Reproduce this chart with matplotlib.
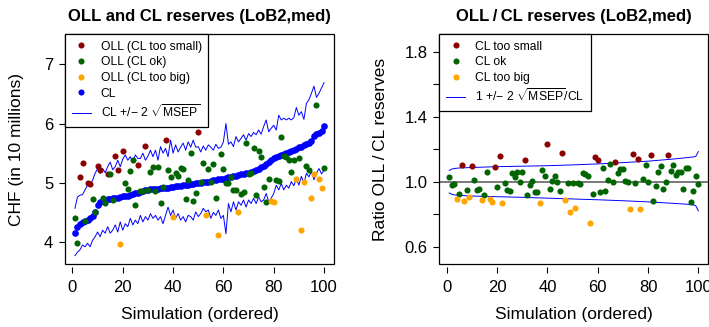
import matplotlib
matplotlib.use("Agg")
import matplotlib.pyplot as plt
from matplotlib.patches import Rectangle
from matplotlib.lines import Line2D
import numpy as np

plt.rcParams['font.family'] = ['Liberation Sans', 'DejaVu Sans']
plt.rcParams['mathtext.fontset'] = 'custom'
plt.rcParams['mathtext.rm'] = 'Liberation Sans'
plt.rcParams['mathtext.it'] = 'Liberation Sans:italic'
plt.rcParams['mathtext.bf'] = 'Liberation Sans:bold'

# ---- left panel: CL reserves (sorted), OLL reserves, CL +/- 2 sqrt(MSEP)
cl = [4.16, 4.26, 4.31, 4.34, 4.36, 4.38, 4.40, 4.44, 4.51, 4.62,
      4.67, 4.69, 4.71, 4.72, 4.73, 4.74, 4.75, 4.75, 4.76, 4.77,
      4.78, 4.78, 4.80, 4.81, 4.82, 4.83, 4.85, 4.86, 4.87, 4.88,
      4.89, 4.89, 4.90, 4.90, 4.91, 4.91, 4.92, 4.92, 4.93, 4.93,
      4.94, 4.95, 4.95, 4.96, 4.96, 4.97, 4.98, 4.98, 4.99, 5.00,
      5.00, 5.01, 5.02, 5.02, 5.03, 5.04, 5.05, 5.06, 5.06, 5.07,
      5.08, 5.09, 5.10, 5.11, 5.12, 5.13, 5.14, 5.15, 5.16, 5.17,
      5.18, 5.20, 5.22, 5.24, 5.26, 5.28, 5.31, 5.35, 5.38, 5.42,
      5.44, 5.45, 5.47, 5.49, 5.50, 5.52, 5.53, 5.55, 5.57, 5.60,
      5.61, 5.63, 5.65, 5.67, 5.70, 5.79, 5.82, 5.84, 5.87, 5.96]

cl_upper = [4.57, 4.76, 4.79, 4.80, 4.88, 4.96, 4.98, 5.04, 5.16, 5.24,
            5.16, 5.24, 5.17, 5.27, 5.35, 5.22, 5.27, 5.38, 5.27, 5.40,
            5.47, 5.38, 5.44, 5.35, 5.47, 5.41, 5.41, 5.50, 5.38, 5.45,
            5.55, 5.44, 5.55, 5.38, 5.61, 5.50, 5.58, 5.44, 5.72, 5.50,
            5.64, 5.52, 5.60, 5.67, 5.55, 5.69, 5.60, 5.72, 5.60, 5.61,
            5.52, 5.62, 5.55, 5.64, 5.60, 5.55, 5.65, 5.58, 5.60, 5.69,
            6.00, 5.65, 5.69, 5.61, 5.78, 5.69, 5.75, 5.81, 5.72, 5.83,
            5.78, 5.85, 5.81, 5.89, 5.82, 5.95, 6.06, 5.86, 5.92, 5.97,
            5.89, 6.14, 6.06, 6.09, 6.06, 6.09, 6.06, 6.10, 6.27, 6.14,
            6.20, 6.07, 6.34, 6.40, 6.51, 6.63, 6.44, 6.51, 6.60, 6.69]

cl_lower = [3.77, 3.83, 3.87, 3.95, 3.92, 3.98, 3.92, 4.03, 4.09, 4.17,
            4.09, 4.20, 4.15, 4.26, 4.15, 4.20, 4.29, 4.17, 4.34, 4.20,
            4.31, 4.26, 4.40, 4.29, 4.37, 4.31, 4.45, 4.34, 4.43, 4.37,
            4.48, 4.40, 4.45, 4.37, 4.43, 4.31, 4.45, 4.59, 4.45, 4.54,
            4.40, 4.48, 4.37, 4.43, 4.34, 4.45, 4.43, 4.37, 4.51, 4.43,
            4.48, 4.57, 4.51, 4.54, 4.40, 4.50, 4.45, 4.54, 4.40, 4.45,
            4.14, 4.65, 4.51, 4.68, 4.54, 4.68, 4.62, 4.71, 4.59, 4.71,
            4.65, 4.74, 4.65, 4.76, 4.68, 4.71, 4.82, 4.68, 4.74, 4.82,
            4.96, 4.88, 4.99, 4.88, 4.96, 4.91, 5.02, 4.95, 5.07, 4.96,
            5.11, 4.99, 5.16, 5.10, 5.19, 5.05, 5.16, 5.24, 5.15, 5.21]

oll = [4.40, 3.98, 5.09, 5.33, 4.36, 5.00, 4.98, 4.73, 4.51, 5.28,
       5.22, 4.74, 4.66, 5.15, 5.15, 4.71, 5.46, 5.22, 3.96, 5.54,
       4.99, 4.89, 5.20, 5.38, 4.63, 5.30, 4.86, 4.86, 5.62, 4.88,
       5.19, 5.26, 4.86, 5.27, 4.66, 4.93, 5.72, 5.21, 5.10, 4.43,
       5.16, 5.11, 5.25, 5.23, 4.72, 5.05, 5.50, 4.69, 4.82, 5.85,
       5.01, 5.33, 4.45, 5.23, 5.01, 5.32, 4.75, 4.12, 5.48, 5.24,
       4.99, 4.99, 5.10, 4.88, 4.88, 4.51, 4.81, 4.85, 5.67, 5.15,
       5.17, 5.59, 4.79, 5.54, 5.43, 4.93, 4.68, 5.07, 4.70, 4.68,
       5.04, 5.03, 5.77, 5.45, 5.43, 5.38, 5.18, 5.38, 5.06, 5.41,
       4.20, 5.01, 5.29, 5.22, 4.75, 5.15, 6.31, 5.06, 4.92, 5.25]

# s = CL too small, o = CL ok, b = CL too big
oll_cat = ['o', 'o', 's', 's', 'o', 's', 's', 'o', 'o', 's',
           's', 'o', 'o', 's', 'o', 'o', 's', 's', 'b', 's',
           'o', 'o', 'o', 'o', 'o', 's', 'o', 'o', 's', 'o',
           'o', 'o', 'o', 'o', 'o', 'o', 's', 'o', 'o', 'b',
           'o', 'o', 'o', 'o', 'o', 'o', 'o', 'o', 'o', 's',
           'o', 'o', 'b', 'o', 'o', 'o', 'o', 'b', 'o', 'o',
           'o', 'o', 'o', 'o', 'o', 'b', 'o', 'o', 'o', 'o',
           'o', 'o', 'o', 'o', 'o', 'o', 'o', 'o', 'b', 'b',
           'o', 'o', 'o', 'o', 'o', 'o', 'o', 'o', 'b', 'o',
           'b', 'b', 'o', 'o', 'b', 'b', 'o', 'b', 'b', 'o']

# ---- right panel: ratio OLL / CL, band 1 +/- 2 sqrt(MSEP)/CL
ratio = [1.032, 0.978, 0.988, 0.892, 0.925, 1.103, 0.880, 0.951, 0.908, 1.097,
         1.009, 0.947, 0.955, 0.886, 0.919, 1.058, 0.892, 0.877, 1.093, 0.966,
         1.159, 0.867, 0.992, 0.947, 0.943, 1.056, 1.029, 1.062, 1.001, 1.062,
         1.132, 0.917, 0.978, 1.005, 0.935, 0.935, 0.871, 1.073, 1.038, 1.233,
         0.955, 1.003, 1.036, 1.001, 0.941, 1.179, 0.886, 0.992, 0.816, 0.992,
         0.836, 0.992, 0.984, 1.056, 1.046, 1.038, 0.746, 0.925, 1.155, 1.134,
         0.935, 1.083, 0.943, 1.009, 1.112, 0.997, 1.120, 1.054, 1.079, 1.077,
         1.005, 0.997, 0.834, 1.171, 0.995, 1.140, 0.834, 1.015, 1.103, 0.997,
         1.163, 0.882, 0.972, 1.058, 1.095, 0.958, 0.999, 1.163, 1.066, 1.101,
         1.042, 1.060, 1.062, 0.955, 1.083, 1.087, 0.877, 0.941, 1.034, 0.984]

ratio_cat = ['o', 'o', 'o', 'b', 'o', 's', 'b', 'o', 'b', 's',
             'o', 'o', 'o', 'b', 'o', 'o', 'b', 'b', 's', 'o',
             's', 'b', 'o', 'o', 'o', 'o', 'o', 'o', 'o', 'o',
             's', 'o', 'o', 'o', 'o', 'o', 'b', 'o', 'o', 's',
             'o', 'o', 'o', 'o', 'o', 's', 'b', 'o', 'b', 'o',
             'b', 'o', 'o', 'o', 'o', 'o', 'b', 'o', 's', 's',
             'o', 'o', 'o', 'o', 'o', 'o', 's', 'o', 'o', 'o',
             'o', 'o', 'b', 's', 'o', 's', 'b', 'o', 'o', 'o',
             's', 'o', 'o', 'o', 'o', 'o', 'o', 's', 'o', 'o',
             'o', 'o', 'o', 'o', 'o', 'o', 'o', 'o', 'o', 'o']

band_x = [1, 2, 3, 5, 10, 20, 30, 40, 50, 60, 70, 80, 90, 95, 98, 99, 100]
band_upper = [1.070, 1.078, 1.082, 1.085, 1.088, 1.093, 1.096, 1.099, 1.104,
              1.110, 1.118, 1.127, 1.140, 1.148, 1.153, 1.157, 1.186]
band_lower = [0.931, 0.923, 0.919, 0.916, 0.912, 0.908, 0.904, 0.899, 0.894,
              0.889, 0.883, 0.876, 0.867, 0.862, 0.858, 0.852, 0.820]

cat_names = {'s': 'CL too small', 'o': 'CL ok', 'b': 'CL too big'}
cat_colors = {'s': '#8B0000', 'o': '#006400', 'b': '#FFA500'}

sim = np.arange(1, 101)
oll = np.array(oll)
ratio = np.array(ratio)
oll_cat = np.array(oll_cat)
ratio_cat = np.array(ratio_cat)

fig = plt.figure(figsize=(7.09, 3.27), dpi=100)
W, H = 709.0, 327.0
ax1 = fig.add_axes([65 / W, 1 - 264 / H, 269 / W, 230 / H])
ax2 = fig.add_axes([439.3 / W, 1 - 264 / H, 269 / W, 230 / H])


def r_style(ax):
    # R-like box with ticks slightly below the box
    for side in ['top', 'right', 'left', 'bottom']:
        ax.spines[side].set_visible(False)
    ax.spines['bottom'].set_position(('outward', 2.2))
    ax.add_patch(Rectangle((0, 0), 1, 1, transform=ax.transAxes, fill=False,
                           lw=0.9, edgecolor='black', zorder=10, clip_on=False))
    ax.tick_params(axis='both', direction='out', length=4.5, width=0.8,
                   labelsize=12, colors='black')
    ax.tick_params(axis='x', pad=4.5)
    ax.tick_params(axis='y', pad=4)
    ax.set_xlim(-2.96, 103.96)
    ax.set_xticks([0, 20, 40, 60, 80, 100])
    ax.set_xlabel('Simulation (ordered)', fontsize=12.5, labelpad=9)


# left panel
ax1.plot(sim, cl_upper, color='blue', lw=0.7, zorder=2)
ax1.plot(sim, cl_lower, color='blue', lw=0.7, zorder=2)
ax1.plot(sim, cl, 'o', color='blue', ms=4.8, mec='none', zorder=3)
for c in ['s', 'o', 'b']:
    m = oll_cat == c
    ax1.plot(sim[m], oll[m], 'o', color=cat_colors[c], ms=4.4, mec='none', zorder=4)
r_style(ax1)
ax1.set_ylim(3.63, 7.51)
ax1.set_yticks([4, 5, 6, 7])
ax1.set_ylabel('CHF (in 10 millions)', fontsize=12.5, labelpad=14)
ax1.set_title('OLL and CL reserves (LoB2,med)', fontsize=12, fontweight='bold', pad=9)

h1 = [Line2D([], [], ls='none', marker='o', ms=4.4, mec='none', color=cat_colors[c],
             label='OLL (' + cat_names[c] + ')') for c in ['s', 'o', 'b']]
h1.append(Line2D([], [], ls='none', marker='o', ms=4.4, mec='none', color='blue', label='CL'))
h1.append(Line2D([], [], color='blue', lw=0.7, label='CL +/\u2212 2 $\\sqrt{\\mathrm{MSEP}}$'))
leg1 = ax1.legend(handles=h1, loc='upper left', bbox_to_anchor=(0, 1), borderaxespad=0,
                  fontsize=8.7, frameon=True, fancybox=False, edgecolor='black',
                  framealpha=1, borderpad=0.55, handlelength=1.6, handletextpad=0.8,
                  labelspacing=0.3)
leg1.get_frame().set_linewidth(0.9)
leg1.set_zorder(11)

# right panel
ax2.axhline(1.0, color='#555555', lw=1.1, zorder=1)
ax2.plot(band_x, band_upper, color='blue', lw=0.7, zorder=2)
ax2.plot(band_x, band_lower, color='blue', lw=0.7, zorder=2)
for c in ['s', 'o', 'b']:
    m = ratio_cat == c
    ax2.plot(sim[m], ratio[m], 'o', color=cat_colors[c], ms=4.4, mec='none', zorder=4)
r_style(ax2)
ax2.set_ylim(0.493, 1.911)
ax2.set_yticks([0.6, 0.8, 1.0, 1.2, 1.4, 1.6, 1.8])
ax2.set_yticklabels(['0.6', '', '1.0', '', '1.4', '', '1.8'])
ax2.set_ylabel('Ratio OLL\u2009/\u2009CL reserves', fontsize=12.5, labelpad=12)
ax2.set_title('OLL\u2009/\u2009CL reserves (LoB2,med)', fontsize=12, fontweight='bold', pad=9)

h2 = [Line2D([], [], ls='none', marker='o', ms=4.4, mec='none', color=cat_colors[c],
             label=cat_names[c]) for c in ['s', 'o', 'b']]
h2.append(Line2D([], [], color='blue', lw=0.7,
                 label='1 +/\u2212 2 $\\sqrt{\\mathrm{MSEP}}$/CL'))
leg2 = ax2.legend(handles=h2, loc='upper left', bbox_to_anchor=(0, 1), borderaxespad=0,
                  fontsize=8.7, frameon=True, fancybox=False, edgecolor='black',
                  framealpha=1, borderpad=0.55, handlelength=1.6, handletextpad=0.8,
                  labelspacing=0.3)
leg2.get_frame().set_linewidth(0.9)
leg2.set_zorder(11)

fig.savefig('out.png', dpi=100)
